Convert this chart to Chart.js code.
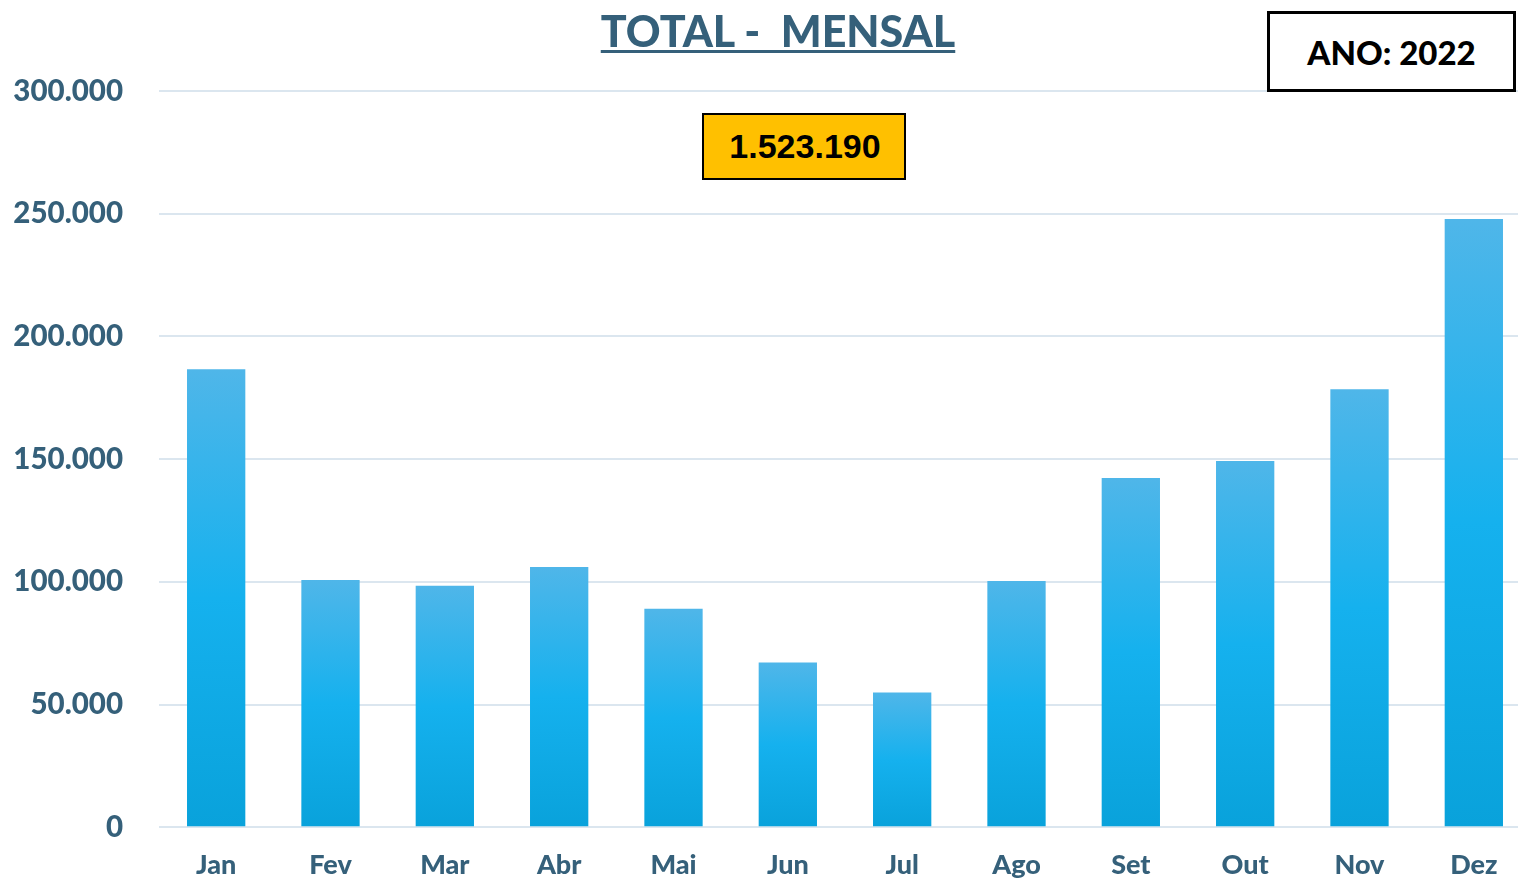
<!DOCTYPE html>
<html>
<head>
<meta charset="utf-8">
<script src="https://cdn.jsdelivr.net/npm/chart.js@4.4.1/dist/chart.umd.min.js"></script>
<style>
  html, body { margin: 0; padding: 0; background: #fff; overflow: hidden; width: 1518px; height: 881px; }
  #wrap { position: absolute; left: 0; top: 0; width: 1532px; height: 881px; }
  #title { position: absolute; left: 0; top: 5px; width: 1556px; text-align: center;
    font-family: Lato, "DejaVu Sans", sans-serif; font-weight: 900; font-size: 43px; color: #35607a;
    text-decoration: underline; text-decoration-thickness: 3px; text-underline-offset: 3px; white-space: pre; }
  #total { position: absolute; left: 702px; top: 113px; box-sizing: border-box;
    width: 204px; height: 67px; background: #ffc000; border: 2.5px solid #000;
    font-family: "Liberation Sans", Arial, sans-serif; font-weight: bold; font-size: 34px; color: #000;
    display: flex; align-items: center; justify-content: center; padding-left: 2px; }
  #ano { position: absolute; left: 1267px; top: 11px; width: 249px; height: 81px; box-sizing: border-box;
    border: 3px solid #000; background: #fff;
    font-family: Lato, "DejaVu Sans", sans-serif; font-weight: 900; font-size: 33px; color: #000;
    display: flex; align-items: center; justify-content: center; }
</style>
</head>
<body>
<div id="wrap"><canvas id="c" width="1532" height="881"></canvas></div>
<div id="title">TOTAL -  MENSAL</div>
<div id="total">1.523.190</div>
<div id="ano">ANO: 2022</div>
<script>
const months = ["Jan","Fev","Mar","Abr","Mai","Jun","Jul","Ago","Set","Out","Nov","Dez"];
const totals = [186600, 100800, 98400, 106100, 89000, 67100, 54900, 100400, 142300, 149200, 178500, 247800];
const yTicks = [0, 50000, 100000, 150000, 200000, 250000, 300000];

const axisColor = "#35607a";
const fmt = v => v.toLocaleString("de-DE");

function barFill(ctx) {
  const chart = ctx.chart;
  const area = chart.chartArea;
  if (!area || ctx.dataIndex === undefined) return "#16b0ee";
  const y = chart.scales.y;
  const top = y.getPixelForValue(ctx.raw);
  const bot = y.getPixelForValue(0);
  if (!isFinite(top) || !isFinite(bot) || bot - top < 1) return "#16b0ee";
  const g = chart.ctx.createLinearGradient(0, top, 0, bot);
  g.addColorStop(0, "#4fb6e9");
  g.addColorStop(0.5, "#15b1ee");
  g.addColorStop(1, "#09a2db");
  return g;
}

new Chart(document.getElementById("c"), {
  type: "bar",
  data: {
    labels: months,
    datasets: [{
      data: totals,
      backgroundColor: barFill,
      borderWidth: 0,
      categoryPercentage: 1,
      barPercentage: 0.51
    }]
  },
  options: {
    responsive: false,
    animation: false,
    events: [],
    layout: { padding: { top: 91, left: 0, right: 1, bottom: 0 } },
    plugins: { legend: { display: false }, tooltip: { enabled: false }, title: { display: false } },
    scales: {
      x: {
        grid: { display: false, drawTicks: false },
        border: { display: false },
        ticks: {
          color: axisColor,
          padding: 22,
          font: { family: "Lato", weight: "900", size: 27 }
        },
        afterFit: s => { s.height = 52; }
      },
      y: {
        min: 0, max: 300000,
        afterBuildTicks: s => { s.ticks = yTicks.map(v => ({ value: v })); },
        grid: { color: "#dbe6ef", lineWidth: 2, drawTicks: false },
        border: { display: false },
        ticks: {
          color: axisColor,
          padding: 36,
          font: { family: "Lato", weight: "900", size: 29.5 },
          callback: v => fmt(v)
        },
        afterFit: s => { s.width = 159; }
      }
    }
  }
});
</script>
</body>
</html>
